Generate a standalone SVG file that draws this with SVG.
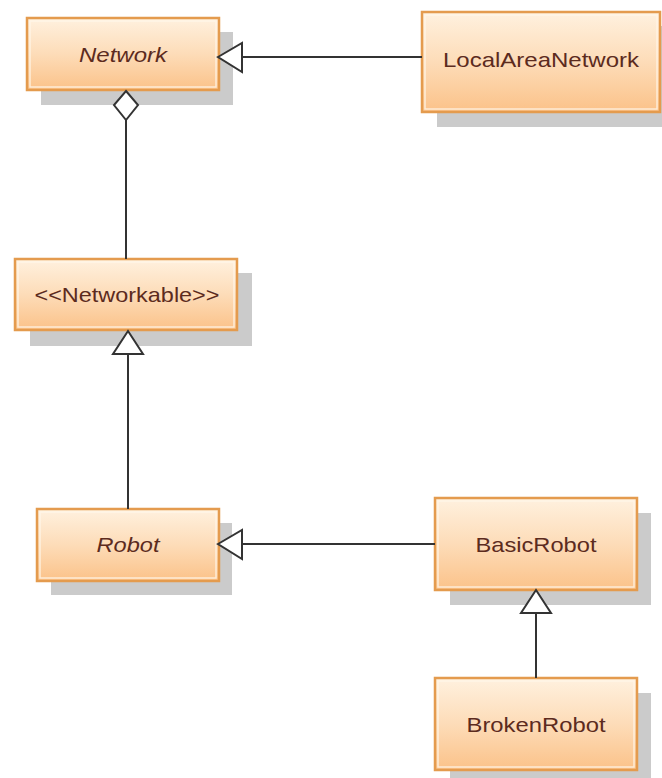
<svg xmlns="http://www.w3.org/2000/svg" width="662" height="778" viewBox="0 0 662 778">
<defs>
<linearGradient id="g" x1="0" y1="0" x2="0" y2="1">
<stop offset="0" stop-color="#fff1df"/>
<stop offset="0.5" stop-color="#fddcb8"/>
<stop offset="1" stop-color="#fbc289"/>
</linearGradient>
<style>
.sh{fill:#cbcbcb}
.bx{fill:url(#g);stroke:#e49b4e;stroke-width:2.5}
.in{fill:none;stroke:#fff6ea;stroke-width:1.5;opacity:0.8}
.t{font-family:"Liberation Sans",Arial,sans-serif;font-size:21px;fill:#5c2b1e;text-anchor:middle}
.i{font-style:italic}
.ln{stroke:#333;stroke-width:2;fill:none}
.hd{fill:#fff;stroke:#333;stroke-width:2}
</style>
</defs>
<rect width="662" height="778" fill="#fff"/>
<g id="Network">
<rect class="sh" x="41" y="32" width="192" height="73"/>
<rect class="bx" x="27" y="18" width="192" height="72"/>
<rect class="in" x="30" y="21" width="186" height="66"/>
<text class="t i" x="123" y="62" textLength="88" lengthAdjust="spacingAndGlyphs">Network</text>
</g>
<g id="LocalAreaNetwork">
<rect class="sh" x="437" y="26" width="225" height="101"/>
<rect class="bx" x="422" y="12" width="238" height="100"/>
<rect class="in" x="425" y="15" width="232" height="94"/>
<text class="t" x="541" y="67" textLength="196" lengthAdjust="spacingAndGlyphs">LocalAreaNetwork</text>
</g>
<g id="Networkable">
<rect class="sh" x="30" y="273" width="222" height="73"/>
<rect class="bx" x="15" y="259" width="222" height="71"/>
<rect class="in" x="18" y="262" width="216" height="65"/>
<text class="t" x="127" y="302" textLength="185" lengthAdjust="spacingAndGlyphs">&lt;&lt;Networkable&gt;&gt;</text>
</g>
<g id="Robot">
<rect class="sh" x="51" y="523" width="181" height="72"/>
<rect class="bx" x="37" y="509" width="182" height="72"/>
<rect class="in" x="40" y="512" width="176" height="66"/>
<text class="t i" x="128" y="552" textLength="63" lengthAdjust="spacingAndGlyphs">Robot</text>
</g>
<g id="BasicRobot">
<rect class="sh" x="450" y="513" width="201" height="92"/>
<rect class="bx" x="435" y="498" width="202" height="92"/>
<rect class="in" x="438" y="501" width="196" height="86"/>
<text class="t" x="536" y="552" textLength="121" lengthAdjust="spacingAndGlyphs">BasicRobot</text>
</g>
<g id="BrokenRobot">
<rect class="sh" x="450" y="693" width="201" height="85"/>
<rect class="bx" x="435" y="678" width="202" height="92"/>
<rect class="in" x="438" y="681" width="196" height="86"/>
<text class="t" x="536" y="732" textLength="139" lengthAdjust="spacingAndGlyphs">BrokenRobot</text>
</g>
<g id="connectors">
<line class="ln" x1="242" y1="57" x2="422" y2="57"/>
<polygon class="hd" points="218,57 242,43 242,72"/>
<line class="ln" x1="126" y1="120" x2="126" y2="259"/>
<polygon class="hd" points="126,91 138,105 126,120 114,105"/>
<line class="ln" x1="128" y1="354" x2="128" y2="509"/>
<polygon class="hd" points="128,331 143,354 113,354"/>
<line class="ln" x1="242" y1="544" x2="435" y2="544"/>
<polygon class="hd" points="218,544 242,530 242,559"/>
<line class="ln" x1="536" y1="613" x2="536" y2="678"/>
<polygon class="hd" points="536,590 551,613 521,613"/>
</g>
</svg>
